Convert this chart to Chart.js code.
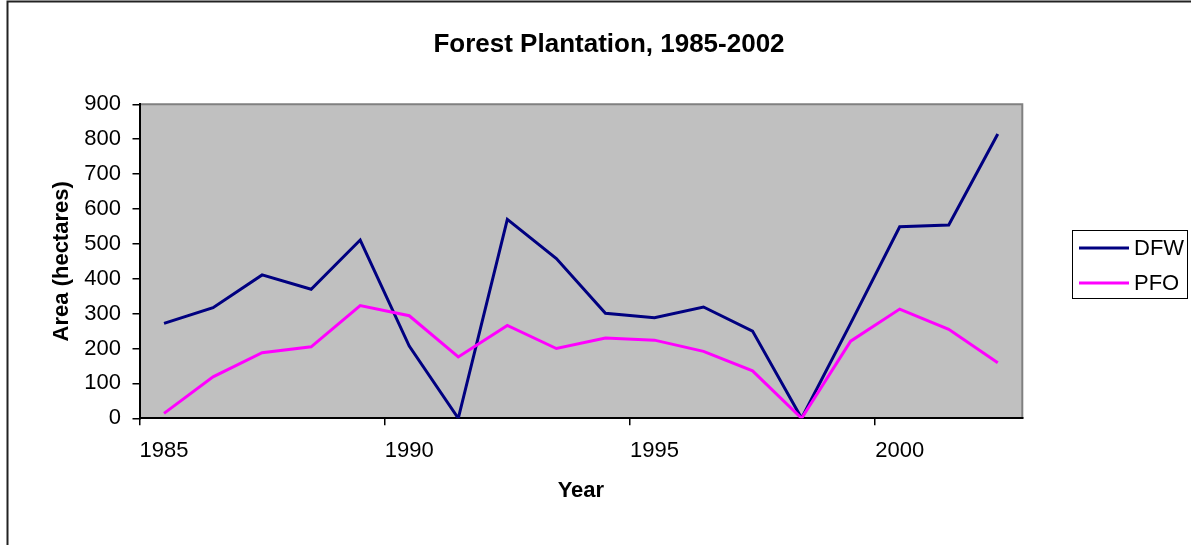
<!DOCTYPE html>
<html lang="en">
<head>
<meta charset="UTF-8" />
<title>Forest Plantation, 1985-2002</title>
<style>
  html, body { margin: 0; padding: 0; background: #fff; }
  #wrap { width: 1191px; height: 545px; }
</style>
</head>
<body>
<div id="wrap"><canvas id="myChart" width="1191" height="545"></canvas></div>

<script src="https://cdn.jsdelivr.net/npm/chart.js"></script>
<script>
// data
const years = ['1985', '1986', '1987', '1988', '1989', '1990', '1991', '1992', '1993',
               '1994', '1995', '1996', '1997', '1998', '1999', '2000', '2001', '2002'];
const dfw = [272, 317, 411, 370, 511, 207, 0, 570, 458, 301, 288, 319, 250, 0, 272, 549, 554, 815];
const pfo = [14, 119, 188, 205, 323, 294, 176, 266, 200, 230, 224, 192, 136, 0, 221, 313, 255, 159];
const yTicks = [0, 100, 200, 300, 400, 500, 600, 700, 800, 900];

const FONT = "Arial, 'Liberation Sans', sans-serif";

// grey plot area, outer frame, title and boxed legend (excel look)
const excelLook = {
    id: 'excelLook',
    beforeDraw(chart) {
        const ctx = chart.ctx;
        const a = chart.chartArea;
        ctx.save();
        ctx.fillStyle = '#c0c0c0';
        ctx.fillRect(a.left, a.top, a.right - a.left, a.bottom - a.top);
        ctx.strokeStyle = '#808080';
        ctx.lineWidth = 2;
        ctx.beginPath();
        ctx.moveTo(a.left, a.top);
        ctx.lineTo(a.right, a.top);
        ctx.lineTo(a.right, a.bottom);
        ctx.stroke();
        // outer chart frame
        ctx.strokeStyle = '#222';
        ctx.lineWidth = 2;
        ctx.beginPath();
        ctx.moveTo(7.5, 545);
        ctx.lineTo(7.5, 1.5);
        ctx.lineTo(1191, 1.5);
        ctx.stroke();
        ctx.restore();
    },
    afterDraw(chart) {
        const ctx = chart.ctx;
        ctx.save();
        ctx.fillStyle = '#000';
        ctx.font = 'bold 26px ' + FONT;
        ctx.textAlign = 'center';
        ctx.textBaseline = 'middle';
        ctx.fillText('Forest Plantation, 1985-2002', 609, 45);

        // legend
        ctx.strokeStyle = '#000';
        ctx.lineWidth = 1;
        ctx.strokeRect(1072.5, 230.5, 115, 68);
        ctx.font = '22px ' + FONT;
        ctx.textAlign = 'left';
        const rows = [248, 283];
        chart.data.datasets.forEach((ds, i) => {
            ctx.strokeStyle = ds.borderColor;
            ctx.lineWidth = 3;
            ctx.beginPath();
            ctx.moveTo(1079, rows[i]);
            ctx.lineTo(1129, rows[i]);
            ctx.stroke();
            ctx.fillStyle = '#000';
            ctx.fillText(ds.label, 1134, rows[i] + 1);
        });
        ctx.restore();
    }
};

const data = {
    labels: years,
    datasets: [
        {
            label: 'DFW',
            data: dfw,
            borderColor: '#000080',
            backgroundColor: '#000080',
            borderWidth: 3,
            pointRadius: 0,
            tension: 0,
            order: 1
        },
        {
            label: 'PFO',
            data: pfo,
            borderColor: '#ff00ff',
            backgroundColor: '#ff00ff',
            borderWidth: 3,
            pointRadius: 0,
            tension: 0,
            order: 0
        }
    ]
};

const config = {
    type: 'line',
    data: data,
    plugins: [excelLook],
    options: {
        responsive: false,
        animation: false,
        layout: { padding: { top: 104.3, left: 0, right: 168.7, bottom: 36.7 } },
        plugins: {
            legend: { display: false },
            title: { display: false },
            tooltip: { enabled: false }
        },
        scales: {
            x: {
                type: 'category',
                offset: true,
                afterFit: (scale) => { scale.height = 90; },
                grid: {
                    offset: true,
                    drawOnChartArea: false,
                    drawTicks: true,
                    tickLength: 7,
                    lineWidth: 1.5,
                    color: (c) => (c.index % 5 === 0 ? '#000' : 'rgba(0,0,0,0)')
                },
                border: { color: '#000', width: 2 },
                ticks: {
                    autoSkip: false,
                    maxRotation: 0,
                    minRotation: 0,
                    padding: 12.5,
                    color: '#000',
                    font: { family: FONT, size: 22 },
                    callback: function (val, index) {
                        return index % 5 === 0 ? this.getLabelForValue(val) : '';
                    }
                },
                title: {
                    display: true,
                    text: 'Year',
                    color: '#000',
                    font: { family: FONT, size: 22, weight: 'bold' },
                    padding: { top: 0, bottom: 4 }
                }
            },
            y: {
                min: yTicks[0],
                max: yTicks[yTicks.length - 1],
                afterFit: (scale) => { scale.width = 139.5; },
                afterBuildTicks: (scale) => { scale.ticks = yTicks.map(v => ({ value: v })); },
                grid: {
                    drawOnChartArea: false,
                    drawTicks: true,
                    tickLength: 7,
                    lineWidth: 1.5,
                    color: '#000'
                },
                border: { color: '#000', width: 2 },
                ticks: {
                    padding: 11.5,
                    color: '#000',
                    font: { family: FONT, size: 22 }
                },
                title: {
                    display: true,
                    text: 'Area (hectares)',
                    color: '#000',
                    font: { family: FONT, size: 22, weight: 'bold' },
                    padding: { top: 48.8, bottom: 0 }
                }
            }
        }
    }
};

const myChart = new Chart(document.getElementById('myChart'), config);
</script>
</body>
</html>
